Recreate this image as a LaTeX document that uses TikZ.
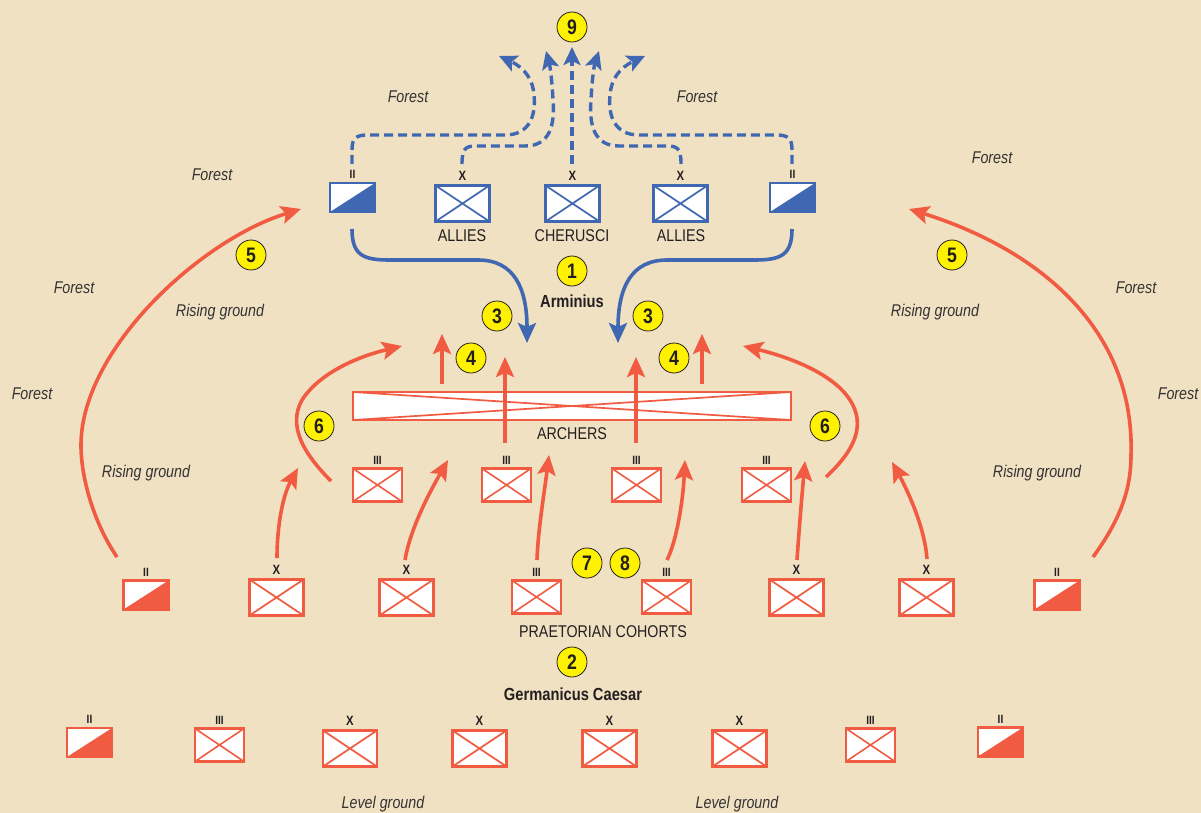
\documentclass[tikz,border=0pt]{standalone}
\usepackage{fontspec}
\setmainfont{Liberation Sans}[FakeStretch=0.84]
\usetikzlibrary{arrows.meta}
\definecolor{bg}{HTML}{F1E1C3}
\definecolor{rd}{HTML}{F05B42}
\definecolor{bl}{HTML}{4068B2}
\definecolor{yl}{HTML}{FFF200}
\definecolor{ink}{HTML}{231F20}
\definecolor{lbl}{HTML}{333333}
\tikzset{
  xbox/.style={draw=#1, fill=white, line width=2.8pt, minimum width=54pt, minimum height=36pt, inner sep=0pt,
    path picture={\draw[#1, line width=1.7pt] (path picture bounding box.south west) -- (path picture bounding box.north east)
      (path picture bounding box.north west) -- (path picture bounding box.south east);}},
  iiibox/.style={draw=#1, fill=white, line width=2.5pt, minimum width=49pt, minimum height=33pt, inner sep=0pt,
    path picture={\draw[#1, line width=1.6pt] (path picture bounding box.south west) -- (path picture bounding box.north east)
      (path picture bounding box.north west) -- (path picture bounding box.south east);}},
  iibox/.style={draw=#1, fill=white, line width=2.5pt, minimum width=45pt, minimum height=29pt, inner sep=0pt,
    path picture={\fill[#1] (path picture bounding box.south west) -- (path picture bounding box.south east)
      -- (path picture bounding box.north east) -- cycle;}},
  archbox/.style={draw=#1, fill=white, line width=2.7pt, minimum width=438pt, minimum height=28pt, inner sep=0pt,
    path picture={\draw[#1, line width=1.7pt] (path picture bounding box.south west) -- (path picture bounding box.north east)
      (path picture bounding box.north west) -- (path picture bounding box.south east);}},
  ech/.style={font=\bfseries\fontsize{13.5}{14}\selectfont, text=ink, inner sep=0pt, anchor=south},
  echs/.style={font=\bfseries\fontsize{12}{12}\selectfont, text=ink, inner sep=0pt, anchor=south},
  num/.style={circle, fill=yl, draw=ink, line width=0.8pt, minimum size=30pt, inner sep=0pt,
    font=\bfseries\fontsize{21}{21}\selectfont, text=ink},
  lab/.style={font=\fontsize{17}{20}\selectfont, text=ink, inner sep=0pt},
  boldlab/.style={font=\bfseries\fontsize{17.5}{20}\selectfont, text=ink, inner sep=0pt},
  terr/.style={font=\itshape\fontsize{17}{20}\selectfont, text=lbl, inner sep=0pt},
  rarr/.style={draw=rd, line width=3.6pt, -{Stealth[length=20pt,width=18pt,inset=4pt]}},
  barr/.style={draw=bl, line width=3.6pt, -{Stealth[length=20pt,width=18pt,inset=4pt]}},
  bdash/.style={draw=bl, line width=3.4pt, dash pattern=on 9pt off 5pt, -{Stealth[length=18pt,width=17pt,inset=4pt]}}
}
\newcommand\unitbox[7]{%
  \node[#2=#3] (#1) at (#4,#5) {};
  \node[#7] (#1m) at ([yshift=3pt]#1.north) {#6};
}
\begin{document}
\begin{tikzpicture}[x=1pt,y=-1pt]
\fill[bg] (0,0) rectangle (1201,813);
\useasboundingbox (0,0) rectangle (1201,813);

% terrain labels
\node[terr] (t1) at (408,97) {Forest};
\node[terr] (t2) at (697,97) {Forest};
\node[terr] (t3) at (212,175) {Forest};
\node[terr] (t4) at (992,158) {Forest};
\node[terr] (t5) at (74,288) {Forest};
\node[terr] (t6) at (1136,288) {Forest};
\node[terr] (t7) at (220,312) {Rising ground};
\node[terr] (t8) at (935,312) {Rising ground};
\node[terr] (t9) at (32,394) {Forest};
\node[terr] (t10) at (1178,394) {Forest};
\node[terr] (t11) at (146,473) {Rising ground};
\node[terr] (t12) at (1037,473) {Rising ground};
\node[terr] (t13) at (383,804) {Level ground};
\node[terr] (t14) at (737,804) {Level ground};

% German units
\unitbox{bL}{iibox}{bl}{352.5}{197.5}{II}{echs}
\unitbox{bA1}{xbox}{bl}{462.5}{203.5}{X}{ech}
\unitbox{bC}{xbox}{bl}{572.5}{203.5}{X}{ech}
\unitbox{bA2}{xbox}{bl}{680.5}{203.5}{X}{ech}
\unitbox{bR}{iibox}{bl}{792.5}{197.5}{II}{echs}
\node[lab] (lA1) at (462,236) {ALLIES};
\node[lab] (lC) at (572,236) {CHERUSCI};
\node[lab] (lA2) at (681,236) {ALLIES};

% blue dashed retreat
\coordinate (d0s) at (572,164); \coordinate (d0e) at (572,47);
\coordinate (d1s) at (352,164); \coordinate (d1e) at (499,56);
\coordinate (d2s) at (462,164); \coordinate (d2e) at (546,51);
\coordinate (d3s) at (681,164); \coordinate (d3e) at (599,51);
\coordinate (d4s) at (792,164); \coordinate (d4e) at (645,56);
\draw[bdash] (d0s) -- (d0e);
\draw[bdash] (d1s) -- (352,150) .. controls (352,138) and (356,135) .. (368,135) -- (505,135)
  .. controls (530,135) and (536,115) .. (534,95) .. controls (533,80) and (525,68) .. (d1e);
\draw[bdash] (d2s) .. controls (462,148) and (466,146) .. (476,146) -- (525,146)
  .. controls (550,146) and (555,125) .. (553,100) .. controls (552,80) and (550,66) .. (d2e);
\draw[bdash] (d3s) .. controls (681,148) and (677,146) .. (667,146) -- (619,146)
  .. controls (594,146) and (589,125) .. (591,100) .. controls (592,80) and (594,66) .. (d3e);
\draw[bdash] (d4s) -- (792,150) .. controls (792,138) and (788,135) .. (776,135) -- (639,135)
  .. controls (614,135) and (608,115) .. (610,95) .. controls (611,80) and (619,68) .. (d4e);

% blue attack arrows
\coordinate (a1s) at (352,229); \coordinate (a1e) at (527,343);
\coordinate (a2s) at (792,229); \coordinate (a2e) at (618,343);
\draw[barr] (a1s) .. controls (352,256) and (364,260) .. (390,260) -- (478,260)
  .. controls (514,260) and (527,288) .. (a1e);
\draw[barr] (a2s) .. controls (792,256) and (780,260) .. (754,260) -- (667,260)
  .. controls (631,260) and (618,288) .. (a2e);

% archers
\node[archbox=rd] (arch) at (572,406) {};
\node[lab] (larch) at (572,434) {ARCHERS};
\unitbox{r1}{iiibox}{rd}{377.5}{485}{III}{echs}
\unitbox{r2}{iiibox}{rd}{506.5}{485}{III}{echs}
\unitbox{r3}{iiibox}{rd}{636.5}{485}{III}{echs}
\unitbox{r4}{iiibox}{rd}{766.5}{485}{III}{echs}

% middle row
\unitbox{m1}{iibox}{rd}{146}{595}{II}{echs}
\unitbox{m2}{xbox}{rd}{276.5}{597.5}{X}{ech}
\unitbox{m3}{xbox}{rd}{406.5}{597.5}{X}{ech}
\unitbox{m4}{iiibox}{rd}{536.5}{597}{III}{echs}
\unitbox{m5}{iiibox}{rd}{666.5}{597}{III}{echs}
\unitbox{m6}{xbox}{rd}{796.5}{597.5}{X}{ech}
\unitbox{m7}{xbox}{rd}{926.5}{597.5}{X}{ech}
\unitbox{m8}{iibox}{rd}{1057}{595}{II}{echs}
\node[lab] (lpc) at (603,632) {PRAETORIAN COHORTS};

% rear row
\unitbox{w1}{iibox}{rd}{89.5}{742.5}{II}{echs}
\unitbox{w2}{iiibox}{rd}{219.5}{745}{III}{echs}
\unitbox{w3}{xbox}{rd}{350}{748.5}{X}{ech}
\unitbox{w4}{xbox}{rd}{479.5}{748.5}{X}{ech}
\unitbox{w5}{xbox}{rd}{609.5}{748.5}{X}{ech}
\unitbox{w6}{xbox}{rd}{739.5}{748.5}{X}{ech}
\unitbox{w7}{iiibox}{rd}{870.5}{745}{III}{echs}
\unitbox{w8}{iibox}{rd}{1000.5}{742}{II}{echs}

% red arrows: vertical
\coordinate (v1s) at (442,384); \coordinate (v1e) at (442,334);
\coordinate (v2s) at (505,443); \coordinate (v2e) at (505,357);
\coordinate (v3s) at (636,443); \coordinate (v3e) at (636,357);
\coordinate (v4s) at (702,384); \coordinate (v4e) at (702,334);
\draw[rarr] (v1s) -- (v1e);
\draw[rarr] (v2s) -- (v2e);
\draw[rarr] (v3s) -- (v3e);
\draw[rarr] (v4s) -- (v4e);

% red arrows 6
\coordinate (s6L) at (331,481); \coordinate (e6L) at (402,346);
\coordinate (s6R) at (826,477); \coordinate (e6R) at (743,346);
\draw[rarr] (s6L) .. controls (302,452) and (288,425) .. (302,400) .. controls (320,372) and (360,356) .. (e6L);
\draw[rarr] (s6R) .. controls (855,450) and (866,425) .. (850,400) .. controls (832,372) and (785,356) .. (e6R);

% red arrows 5
\coordinate (s5L) at (117,557); \coordinate (e5L) at (301,209);
\coordinate (s5R) at (1093,557); \coordinate (e5R) at (909,209);
\draw[rarr] (s5L) .. controls (95,525) and (81,480) .. (81,445) .. controls (81,350) and (200,240) .. (e5L);
\draw[rarr] (s5R) .. controls (1120,520) and (1131,490) .. (1131,455) .. controls (1135,330) and (1040,250) .. (e5R);

% short red arrows from front line
\coordinate (p1s) at (277,558); \coordinate (p1e) at (298,468);
\coordinate (p2s) at (405,560); \coordinate (p2e) at (448,460);
\coordinate (p3s) at (537,560); \coordinate (p3e) at (549,455);
\coordinate (p4s) at (667,560); \coordinate (p4e) at (685,460);
\coordinate (p5s) at (797,560); \coordinate (p5e) at (805,461);
\coordinate (p6s) at (927,559); \coordinate (p6e) at (892,462);
\draw[rarr] (p1s) .. controls (277,525) and (283,495) .. (p1e);
\draw[rarr] (p2s) .. controls (410,530) and (428,495) .. (p2e);
\draw[rarr] (p3s) .. controls (538,530) and (544,495) .. (p3e);
\draw[rarr] (p4s) .. controls (677,540) and (683,500) .. (p4e);
\draw[rarr] (p5s) .. controls (799,530) and (802,495) .. (p5e);
\draw[rarr] (p6s) .. controls (925,530) and (910,495) .. (p6e);

% numbered markers and commanders
\node[num] (n9) at (572,27) {9};
\node[num] (n1) at (572,271) {1};
\node[boldlab] (arm) at (572,301) {Arminius};
\node[num] (n3a) at (497,316) {3};
\node[num] (n3b) at (648,316) {3};
\node[num] (n4a) at (471,358) {4};
\node[num] (n4b) at (674,358) {4};
\node[num] (n5a) at (251,255) {5};
\node[num] (n5b) at (952,255) {5};
\node[num] (n6a) at (319,426) {6};
\node[num] (n6b) at (825,426) {6};
\node[num] (n7) at (587,563) {7};
\node[num] (n8) at (625,563) {8};
\node[num] (n2) at (572,662) {2};
\node[boldlab] (ger) at (573,694) {Germanicus Caesar};
\end{tikzpicture}
\end{document}
